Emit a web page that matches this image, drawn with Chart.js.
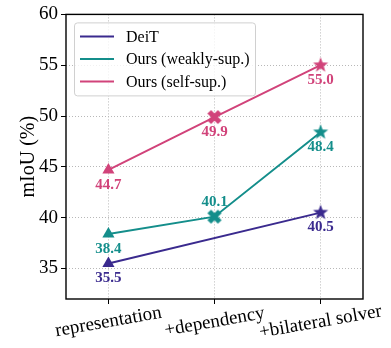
<!DOCTYPE html>
<html><head><meta charset="utf-8">
<script src="https://cdn.jsdelivr.net/npm/chart.js@4/dist/chart.umd.min.js"></script>
<style>html,body{margin:0;padding:0;background:#fff}#wrap{width:391px;height:348px;position:relative}</style>
</head><body><div id="wrap"><canvas id="c"></canvas></div>
<script>
const categories = ['representation', '+dependency', '+bilateral solver'];
const deitValues = [35.5, null, 40.5];
const weaklyValues = [38.4, 40.1, 48.4];
const selfValues = [44.7, 49.9, 55.0];
const seriesNames = ['DeiT', 'Ours (weakly-sup.)', 'Ours (self-sup.)'];
const yTicks = [35, 40, 45, 50, 55, 60];
const labelSide = [[1, 1, 1], [1, -1, 1], [1, 1, 1]]; // 1 = below, -1 = above

const colors = ['#3a2a8e', '#148e8b', '#d1437a'];
const SERIF = '"Liberation Serif", "DejaVu Serif", serif';

function starCanvas(color, r) {
  const s = Math.ceil(2 * r + 2), c = document.createElement('canvas');
  c.width = s; c.height = s;
  const g = c.getContext('2d'); g.fillStyle = color; g.beginPath();
  for (let k = 0; k < 10; k++) {
    const rr = k % 2 === 0 ? r : r * 0.42;
    const a = -Math.PI / 2 + k * Math.PI / 5;
    const px = s / 2 + rr * Math.cos(a), py = s / 2 + rr * Math.sin(a);
    k === 0 ? g.moveTo(px, py) : g.lineTo(px, py);
  }
  g.closePath(); g.fill(); return c;
}
function xCanvas(color, r) {
  const s = Math.ceil(2 * r + 2), c = document.createElement('canvas');
  c.width = s; c.height = s;
  const g = c.getContext('2d'); g.strokeStyle = color; g.lineWidth = r * 0.75; g.lineCap = 'butt';
  g.beginPath();
  g.moveTo(s / 2 - r * 0.75, s / 2 - r * 0.75); g.lineTo(s / 2 + r * 0.75, s / 2 + r * 0.75);
  g.moveTo(s / 2 + r * 0.75, s / 2 - r * 0.75); g.lineTo(s / 2 - r * 0.75, s / 2 + r * 0.75);
  g.stroke(); return c;
}

const allValues = [deitValues, weaklyValues, selfValues];
const datasets = allValues.map((vals, si) => ({
  label: seriesNames[si],
  data: vals.map((v, i) => ({ x: i, y: v })),
  borderColor: colors[si],
  backgroundColor: colors[si],
  borderWidth: 2,
  spanGaps: true,
  pointStyle: ['triangle', xCanvas(colors[si], 7), starCanvas(colors[si], 8)],
  pointRadius: 7,
  pointBorderWidth: 0,
  tension: 0
}));

const decor = {
  id: 'decor',
  afterDraw(chart) {
    const ctx = chart.ctx, a = chart.chartArea;
    const xs = chart.scales.x, ys = chart.scales.y;
    ctx.save();
    // frame
    ctx.strokeStyle = '#000'; ctx.lineWidth = 1.4;
    ctx.strokeRect(a.left, a.top, a.right - a.left, a.bottom - a.top);
    // value labels
    ctx.font = 'bold 15px ' + SERIF; ctx.textAlign = 'center'; ctx.textBaseline = 'middle';
    allValues.forEach((vals, si) => {
      ctx.fillStyle = colors[si];
      vals.forEach((v, i) => {
        if (v === null) return;
        const px = xs.getPixelForValue(i), py = ys.getPixelForValue(v);
        ctx.fillText(v.toFixed(1), px, py + 15 * labelSide[si][i]);
      });
    });
    // x tick labels (centered, rotated 10 deg)
    ctx.fillStyle = '#000'; ctx.font = '19px ' + SERIF;
    categories.forEach((c, i) => {
      ctx.save();
      ctx.translate(xs.getPixelForValue(i), 322);
      ctx.rotate(-10 * Math.PI / 180);
      ctx.fillText(c, 0, 0);
      ctx.restore();
    });
    // legend
    const lx = a.left + 8, ly = a.top + 8, lw = 181, lh = 73;
    ctx.beginPath();
    if (ctx.roundRect) ctx.roundRect(lx + 0.5, ly + 0.5, lw, lh, 3); else ctx.rect(lx + 0.5, ly + 0.5, lw, lh);
    ctx.fillStyle = 'rgba(255,255,255,0.8)'; ctx.fill();
    ctx.strokeStyle = '#d0d0d0'; ctx.lineWidth = 1; ctx.stroke();
    ctx.font = '16px ' + SERIF; ctx.textAlign = 'left'; ctx.textBaseline = 'middle';
    seriesNames.forEach((n, si) => {
      const yy = ly + 14 + si * 22.5;
      ctx.strokeStyle = colors[si]; ctx.lineWidth = 2;
      ctx.beginPath(); ctx.moveTo(lx + 6, yy); ctx.lineTo(lx + 40, yy); ctx.stroke();
      ctx.fillStyle = '#000'; ctx.fillText(n, lx + 52, yy + 1);
    });
    ctx.restore();
  }
};

const gridOpts = { color: '#b8b8b8', lineWidth: 1, borderDash: [1, 2], tickLength: 5, tickColor: '#000', tickWidth: 1, tickBorderDash: [] };

new Chart(document.getElementById('c'), {
  type: 'line',
  data: { datasets },
  options: {
    responsive: true, maintainAspectRatio: false, animation: false, events: [],
    layout: { padding: { top: 10, right: 28, left: 0, bottom: 0 } },
    plugins: { legend: { display: false }, tooltip: { enabled: false } },
    scales: {
      x: {
        type: 'linear', min: -0.4, max: 2.4,
        afterBuildTicks: s => { s.ticks = categories.map((c, i) => ({ value: i })); },
        afterFit: s => { s.height = 49; },
        ticks: { display: false },
        grid: gridOpts,
        border: { display: false, dash: [1, 2] }
      },
      y: {
        min: 32, max: 60,
        afterBuildTicks: s => { s.ticks = yTicks.map(v => ({ value: v })); },
        afterFit: s => { s.width = 66; },
        ticks: { color: '#000', font: { family: SERIF, size: 19 }, padding: 3, callback: v => String(v) },
        grid: gridOpts,
        border: { display: false, dash: [1, 2] },
        title: { display: true, text: 'mIoU (%)', color: '#000', font: { family: SERIF, size: 20 }, padding: { top: 17, bottom: 0 } }
      }
    }
  },
  plugins: [decor]
});
</script>
</body></html>
